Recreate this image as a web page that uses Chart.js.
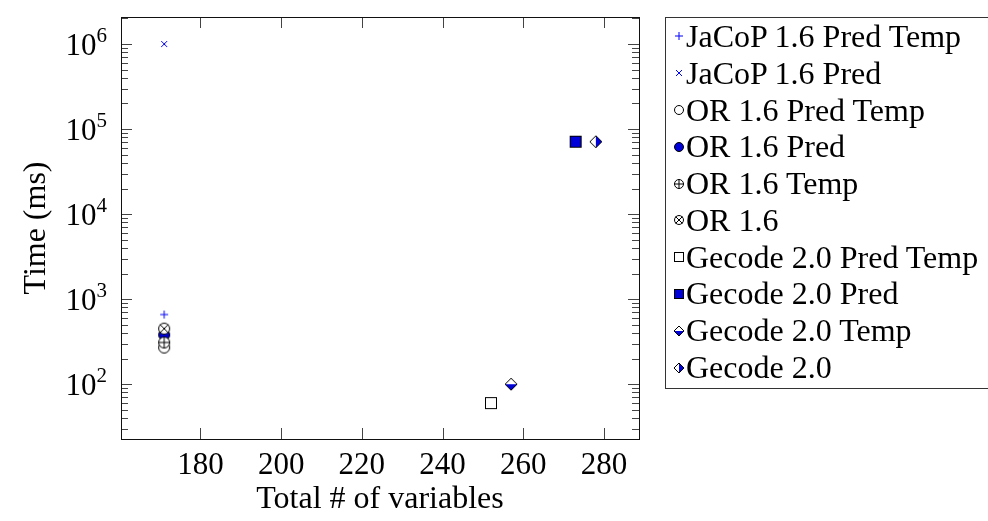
<!DOCTYPE html>
<html>
<head>
<meta charset="utf-8">
<script src="https://cdn.jsdelivr.net/npm/chart.js@4"></script>
<style>
  body { margin: 0; background: #fff; overflow: hidden; }
  #wrap { position: relative; width: 988px; height: 521px; overflow: hidden; }
  #legend {
    position: absolute; left: 665px; top: 17px; width: 340px; height: 372px;
    border: 1px solid #333; box-sizing: border-box; padding-top: 0px;
    font-family: "Liberation Serif", serif; font-size: 32px; color: #000;
  }
  .row { height: 36.8px; display: flex; align-items: center; }
  .row canvas { margin-left: 6px; margin-right: 0px; }
</style>
</head>
<body>
<div id="wrap">
  <canvas id="chart" width="988" height="521"></canvas>
  <div id="legend"></div>
</div>
<script>
const seriesNames = [
  "JaCoP 1.6 Pred Temp", "JaCoP 1.6 Pred", "OR 1.6 Pred Temp", "OR 1.6 Pred",
  "OR 1.6 Temp", "OR 1.6", "Gecode 2.0 Pred Temp", "Gecode 2.0 Pred",
  "Gecode 2.0 Temp", "Gecode 2.0"
];
const markers = ["plus", "cross", "circle", "dot", "oplus", "otimes",
  "square", "squareFill", "diamondBottom", "diamondRight"];
const numVariables = [171, 171, 171, 171, 171, 171, 252, 273, 257, 278];
const timeMs = [660, 1000000, 270, 380, 310, 450, 60, 71000, 100, 71000];

const xTicks = [180, 200, 220, 240, 260, 280];
const yMajor = [1e2, 1e3, 1e4, 1e5, 1e6];
const yExponents = ["2", "3", "4", "5", "6"];

const BLUE = "#0000ff";
const FILL = "#0000d8";

function marker(kind, s) {
  const w = s + 4;
  const c = document.createElement("canvas");
  c.width = w; c.height = w;
  const g = c.getContext("2d");
  const m = w / 2, r = s / 2;
  g.lineWidth = 1;
  g.strokeStyle = "#000";
  const circle = function (fill) {
    g.beginPath(); g.arc(m, m, r - 0.5, 0, Math.PI * 2);
    g.fillStyle = fill; g.fill(); g.stroke();
  };
  const line = function (x1, y1, x2, y2) {
    g.beginPath(); g.moveTo(x1, y1); g.lineTo(x2, y2); g.stroke();
  };
  const diamond = function () {
    g.beginPath(); g.moveTo(m, m - r); g.lineTo(m + r, m); g.lineTo(m, m + r); g.lineTo(m - r, m); g.closePath();
  };
  if (kind === "plus") {
    g.strokeStyle = BLUE; const k = r * 0.8;
    line(m - k, m, m + k, m); line(m, m - k, m, m + k);
  } else if (kind === "cross") {
    g.strokeStyle = BLUE; const k = r * 0.6;
    line(m - k, m - k, m + k, m + k); line(m - k, m + k, m + k, m - k);
  } else if (kind === "circle") {
    circle("#fff");
  } else if (kind === "dot") {
    circle(FILL);
  } else if (kind === "oplus") {
    circle("#fff"); line(m - r, m, m + r, m); line(m, m - r, m, m + r);
  } else if (kind === "otimes") {
    circle("#fff"); const k = r * 0.7;
    line(m - k, m - k, m + k, m + k); line(m - k, m + k, m + k, m - k);
  } else if (kind === "square") {
    g.fillStyle = "#fff"; g.fillRect(m - r, m - r, s, s); g.strokeRect(m - r + 0.5, m - r + 0.5, s - 1, s - 1);
  } else if (kind === "squareFill") {
    g.fillStyle = FILL; g.fillRect(m - r, m - r, s, s); g.strokeRect(m - r + 0.5, m - r + 0.5, s - 1, s - 1);
  } else if (kind === "diamondBottom" || kind === "diamondRight") {
    diamond(); g.fillStyle = "#fff"; g.fill();
    g.save(); diamond(); g.clip(); g.fillStyle = FILL;
    if (kind === "diamondBottom") g.fillRect(0, m, w, w); else g.fillRect(m, 0, w, w);
    g.restore(); diamond(); g.stroke();
  }
  return c;
}

const datasets = seriesNames.map(function (name, i) {
  const small = markers[i] === "plus" || markers[i] === "cross";
  return {
    label: name,
    data: [{ x: numVariables[i], y: timeMs[i] }],
    pointStyle: marker(markers[i], small ? 10 : 12),
    order: seriesNames.length - i
  };
});

const legend = document.getElementById("legend");
seriesNames.forEach(function (name, i) {
  const row = document.createElement("div");
  row.className = "row";
  row.appendChild(marker(markers[i], 10));
  const t = document.createElement("span");
  t.textContent = name;
  row.appendChild(t);
  legend.appendChild(row);
});

const serif = "'Liberation Serif', serif";

const frameTicks = {
  id: "frameTicks",
  beforeDatasetsDraw(chart) {
    const { ctx, chartArea: a, scales } = chart;
    ctx.save();
    ctx.strokeStyle = "#444";
    ctx.lineWidth = 1;
    ctx.beginPath();
    xTicks.forEach(function (v) {
      const x = Math.round(scales.x.getPixelForValue(v)) + 0.5;
      ctx.moveTo(x, a.bottom); ctx.lineTo(x, a.bottom - 11);
      ctx.moveTo(x, a.top); ctx.lineTo(x, a.top + 11);
    });
    scales.y.ticks.forEach(function (t) {
      const y = Math.round(scales.y.getPixelForValue(t.value)) + 0.5;
      const len = yMajor.includes(t.value) ? 11 : 7;
      ctx.moveTo(a.left, y); ctx.lineTo(a.left + len, y);
      ctx.moveTo(a.right, y); ctx.lineTo(a.right - len, y);
    });
    ctx.stroke();
    ctx.strokeStyle = "#111";
    ctx.strokeRect(Math.round(a.left) + 0.5, Math.round(a.top) + 0.5,
      Math.round(a.right - a.left), Math.round(a.bottom - a.top));

    // y tick labels as 10 with a raised exponent
    ctx.fillStyle = "#000";
    ctx.textBaseline = "alphabetic";
    yMajor.forEach(function (v, i) {
      const y = scales.y.getPixelForValue(v);
      const right = a.left - 14;
      ctx.font = "21px " + serif;
      ctx.textAlign = "right";
      ctx.fillText(yExponents[i], right, y - 2);
      const ew = ctx.measureText(yExponents[i]).width;
      ctx.font = "31px " + serif;
      ctx.fillText("10", right - ew, y + 11);
    });
    ctx.restore();
  }
};

new Chart(document.getElementById("chart").getContext("2d"), {
  type: "scatter",
  data: { datasets: datasets },
  options: {
    responsive: false,
    animation: false,
    devicePixelRatio: 1,
    layout: { padding: { left: 0, top: 17, right: 349, bottom: 0 } },
    plugins: { legend: { display: false }, tooltip: { enabled: false } },
    elements: { point: { radius: 6 } },
    scales: {
      x: {
        type: "linear",
        min: 160.3,
        max: 288.7,
        afterBuildTicks: function (scale) {
          scale.ticks = xTicks.map(function (v) { return { value: v }; });
        },
        afterFit: function (scale) {
          scale.height = 82;
          scale.paddingLeft = 0; scale.paddingRight = 0;
        },
        grid: { display: false },
        border: { display: false },
        ticks: { color: "#000", padding: 0, font: { family: serif, size: 31 }, maxRotation: 0 },
        title: { display: true, text: "Total # of variables", color: "#000",
          padding: { top: 0, bottom: 2 }, font: { family: serif, size: 32 } }
      },
      y: {
        type: "logarithmic",
        min: 22.7,
        max: 2.08e6,
        afterBuildTicks: function (scale) {
          const ticks = [];
          for (let e = 1; e <= 6; e++) {
            for (let k = 1; k <= 9; k++) {
              const v = k * Math.pow(10, e);
              if (v >= scale.min && v <= scale.max) ticks.push({ value: v });
            }
          }
          scale.ticks = ticks;
        },
        afterFit: function (scale) {
          scale.width = 121;
          scale.paddingTop = 0; scale.paddingBottom = 0;
        },
        grid: { display: false },
        border: { display: false },
        ticks: { display: false },
        title: { display: true, text: "Time (ms)", color: "#000",
          padding: { top: 17, bottom: 0 }, font: { family: serif, size: 32 } }
      }
    }
  },
  plugins: [frameTicks]
});
</script>
</body>
</html>
